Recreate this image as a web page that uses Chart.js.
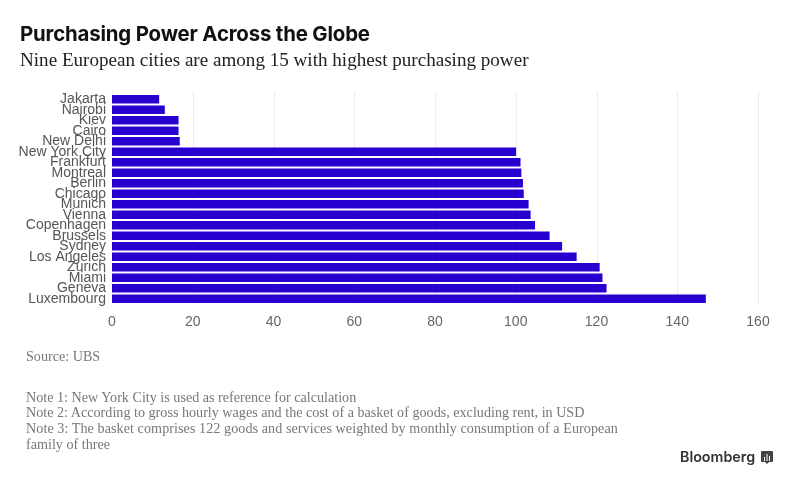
<!DOCTYPE html>
<html>
<head>
<meta charset="utf-8">
<script src="https://cdn.jsdelivr.net/npm/chart.js@4"></script>
<style>
  body { margin: 0; background: #fff; width: 788px; height: 482px; overflow: hidden; position: relative; }
  canvas { position: absolute; left: 0; top: 0; }
  .txt { position: absolute; white-space: nowrap; }
  #title { left: 20px; top: 20px; font: bold 20.4px/28px Inter, sans-serif; color: #111; letter-spacing: -0.17px; }
  #subtitle { left: 20px; top: 48px; font: 19.1px/24px "Liberation Serif", serif; color: #222; }
  .note { left: 26px; font: 14.15px/16px "Liberation Serif", serif; color: #777; }
  #logo { left: 680px; top: 448px; font: 600 14.3px/18px Inter, sans-serif; color: #333; }
  svg { position: absolute; left: 761px; top: 451px; }
</style>
</head>
<body>
<canvas id="chart" width="788" height="482"></canvas>
<div class="txt" id="title">Purchasing Power Across the Globe</div>
<div class="txt" id="subtitle">Nine European cities are among 15 with highest purchasing power</div>
<div class="txt note" style="top:348px">Source: UBS</div>
<div class="txt note" style="top:389px">Note 1: New York City is used as reference for calculation</div>
<div class="txt note" style="top:404px">Note 2: According to gross hourly wages and the cost of a basket of goods, excluding rent, in USD</div>
<div class="txt note" style="top:420px;letter-spacing:0.06px">Note 3: The basket comprises 122 goods and services weighted by monthly consumption of a European</div>
<div class="txt note" style="top:436px">family of three</div>
<div class="txt" id="logo">Bloomberg</div>
<svg width="12" height="14" viewBox="0 0 12 14">
  <path d="M1 0h10a1 1 0 0 1 1 1v9a1 1 0 0 1-1 1H8l-2 2-2-2H1a1 1 0 0 1-1-1V1a1 1 0 0 1 1-1z" fill="#444"/>
  <path d="M3 6h1v4H3zM5.5 3h1v7h-1zM8 5h1v5H8z" fill="#fff"/>
</svg>
<script>
const cities = ['Jakarta', 'Nairobi', 'Kiev', 'Cairo', 'New Delhi', 'New York City', 'Frankfurt', 'Montreal',
  'Berlin', 'Chicago', 'Munich', 'Vienna', 'Copenhagen', 'Brussels', 'Sydney', 'Los Angeles', 'Zurich',
  'Miami', 'Geneva', 'Luxembourg'];
const power = [11.6, 13, 16.4, 16.4, 16.7, 100, 101.1, 101.3, 101.7, 101.9, 103.1, 103.6, 104.7, 108.3,
  111.4, 115, 120.7, 121.4, 122.4, 147];

// gridlines start a little above the first category, so draw them here
const gridPlugin = {
  id: 'tallGrid',
  beforeDatasetsDraw(chart) {
    const { ctx, scales: { x } } = chart;
    ctx.save();
    ctx.strokeStyle = '#ececec';
    ctx.lineWidth = 1;
    x.ticks.forEach(t => {
      const px = Math.round(x.getPixelForValue(t.value)) + 0.5;
      ctx.beginPath();
      ctx.moveTo(px, 91);
      ctx.lineTo(px, 304);
      ctx.stroke();
    });
    ctx.restore();
  }
};

new Chart(document.getElementById('chart').getContext('2d'), {
  type: 'bar',
  data: {
    labels: cities,
    datasets: [{ data: power, backgroundColor: '#2800d0', barThickness: 8 }]
  },
  options: {
    indexAxis: 'y',
    responsive: false,
    animation: false,
    layout: { padding: { top: 94, right: 30, bottom: 148, left: 0 } },
    scales: {
      x: {
        min: 0,
        max: 160,
        afterFit(s) { s.height = 30; },
        grid: { display: false, drawTicks: false },
        border: { display: false },
        ticks: { stepSize: 20, maxRotation: 0, color: '#666', padding: 10, font: { family: 'Liberation Sans', size: 14 } }
      },
      y: {
        afterFit(s) { s.width = 112; },
        grid: { display: false, drawTicks: false },
        border: { display: false },
        ticks: { autoSkip: false, color: '#555', padding: 6, font: { family: 'Liberation Sans', size: 14 } }
      }
    },
    plugins: { legend: { display: false }, tooltip: { enabled: false } }
  },
  plugins: [gridPlugin]
});
</script>
</body>
</html>
